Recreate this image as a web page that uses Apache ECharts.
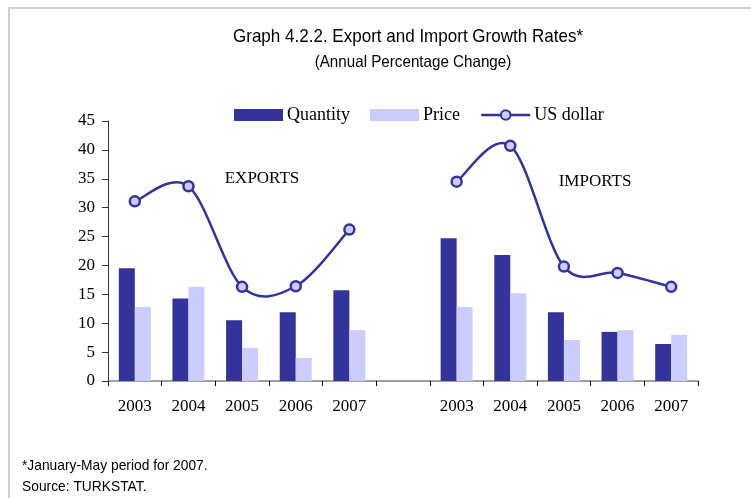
<!DOCTYPE html>
<html>
<head>
<meta charset="utf-8">
<script src="https://cdn.jsdelivr.net/npm/echarts@6/dist/echarts.min.js"></script>
<style>
  html, body { margin: 0; padding: 0; background: #ffffff; }
  #chart { width: 751px; height: 498px; }
</style>
</head>
<body>
<div id="chart"></div>
<script>
// Years shown for each block of the chart
const exportYears = ['2003', '2004', '2005', '2006', '2007'];
const importYears = ['2003', '2004', '2005', '2006', '2007'];

// Annual percentage change, exports
const exportsQuantity = [19.5, 14.3, 10.5, 11.9, 15.7];
const exportsPrice = [12.8, 16.3, 5.7, 4.0, 8.8];
const exportsUSD = [31.1, 33.7, 16.3, 16.4, 26.2];

// Annual percentage change, imports
const importsQuantity = [24.7, 21.8, 11.9, 8.5, 6.4];
const importsPrice = [12.8, 15.2, 7.1, 8.8, 8.0];
const importsUSD = [34.5, 40.7, 19.8, 18.7, 16.3];

// Value axis ticks
const yMin = 0, yMax = 45, yStep = 5;

// One empty slot separates the export and import blocks
const categories = exportYears.concat([''], importYears);
const importOffset = exportYears.length + 1;
const joinBlocks = (a, b) => a.concat(['-'], b);

// Curve segments: each item holds the two end points of a segment and
// their outer neighbours (index, value pairs), used for the tangents.
function curveSegments(values, offset) {
  const out = [];
  const n = values.length;
  for (let i = 0; i < n - 1; i++) {
    const a = i > 0 ? i - 1 : i;
    const d = i + 2 < n ? i + 2 : i + 1;
    out.push([offset + a, values[a], offset + i, values[i],
              offset + i + 1, values[i + 1], offset + d, values[d]]);
  }
  return out;
}
const usdSegments = curveSegments(exportsUSD, 0).concat(curveSegments(importsUSD, importOffset));

const serif = '"Liberation Serif", "Times New Roman", serif';
const sans = '"Liberation Sans", Arial, sans-serif';
const dark = '#333399';
const light = '#ccccff';
const frame = '#d4d0c8';

const chart = echarts.init(document.getElementById('chart'), null, { renderer: 'canvas' });

function narrowText(x, y, text, size, align) {
  return {
    type: 'text', x: x, y: y, scaleX: 0.92,
    style: { text: text, fontFamily: sans, fontSize: size, fill: '#000', align: align, verticalAlign: 'middle' }
  };
}

chart.setOption({
  backgroundColor: '#ffffff',
  animation: false,
  grid: { left: 108, right: 53, top: 121, bottom: 117, containLabel: false },
  legend: {
    top: 106,
    left: 234,
    padding: 0,
    itemWidth: 49,
    itemHeight: 12,
    itemGap: 20,
    textStyle: { fontFamily: serif, fontSize: 18, color: '#000', padding: [0, 0, 0, -1] },
    data: [
      { name: 'Quantity', icon: 'rect' },
      { name: 'Price', icon: 'rect' },
      { name: 'US dollar', lineStyle: { opacity: 1, width: 2.5, color: dark } }
    ]
  },
  xAxis: {
    type: 'category',
    data: categories,
    boundaryGap: true,
    axisLine: { lineStyle: { color: '#808080', width: 1.5 } },
    axisTick: { show: true, length: 5, lineStyle: { color: '#000' } },
    axisLabel: { fontFamily: serif, fontSize: 17, color: '#000', margin: 17, interval: 0 }
  },
  yAxis: {
    type: 'value',
    min: yMin,
    max: yMax,
    interval: yStep,
    splitLine: { show: false },
    axisLine: { show: true, lineStyle: { color: '#333' } },
    axisTick: { show: true, length: 6, lineStyle: { color: '#333' } },
    axisLabel: { fontFamily: serif, fontSize: 17, color: '#000', margin: 13 }
  },
  series: [
    {
      name: 'Quantity',
      type: 'bar',
      barWidth: 16,
      barGap: '0%',
      itemStyle: { color: dark },
      data: joinBlocks(exportsQuantity, importsQuantity)
    },
    {
      name: 'Price',
      type: 'bar',
      barWidth: 16,
      barGap: '0%',
      itemStyle: { color: light },
      data: joinBlocks(exportsPrice, importsPrice)
    },
    {
      // markers; the smoothed curve itself is drawn by the custom series below
      name: 'US dollar',
      type: 'line',
      connectNulls: false,
      symbol: 'circle',
      symbolSize: 10,
      z: 6,
      lineStyle: { color: dark, width: 2.5, opacity: 0 },
      itemStyle: { color: light, borderColor: dark, borderWidth: 2.5 },
      data: joinBlocks(exportsUSD, importsUSD)
    },
    {
      name: 'usd-curve',
      type: 'custom',
      z: 5,
      silent: true,
      encode: { x: [0, 2, 4, 6], y: [1, 3, 5, 7] },
      data: usdSegments,
      renderItem: function (params, api) {
        const p = [0, 1, 2, 3].map(function (k) {
          return api.coord([api.value(2 * k), api.value(2 * k + 1)]);
        });
        return {
          type: 'bezierCurve',
          shape: {
            x1: p[1][0], y1: p[1][1],
            x2: p[2][0], y2: p[2][1],
            cpx1: p[1][0] + (p[2][0] - p[0][0]) / 6,
            cpy1: p[1][1] + (p[2][1] - p[0][1]) / 6,
            cpx2: p[2][0] - (p[3][0] - p[1][0]) / 6,
            cpy2: p[2][1] - (p[3][1] - p[1][1]) / 6
          },
          style: { stroke: dark, lineWidth: 2.5, fill: null, lineCap: 'round' }
        };
      }
    }
  ],
  graphic: [
    // frame lines along the top and left edges
    { type: 'rect', shape: { x: 8, y: 7, width: 743, height: 2 }, style: { fill: frame }, silent: true },
    { type: 'rect', shape: { x: 8, y: 7, width: 2, height: 491 }, style: { fill: frame }, silent: true },
    narrowText(408, 37, 'Graph 4.2.2. Export and Import Growth Rates*', 18.5, 'center'),
    narrowText(413, 62, '(Annual Percentage Change)', 16.5, 'center'),
    {
      type: 'text', x: 262, y: 179,
      style: { text: 'EXPORTS', fontFamily: serif, fontSize: 17, fill: '#000', align: 'center', verticalAlign: 'middle' }
    },
    {
      type: 'text', x: 595, y: 182,
      style: { text: 'IMPORTS', fontFamily: serif, fontSize: 17, fill: '#000', align: 'center', verticalAlign: 'middle' }
    },
    narrowText(22, 466, '*January-May period for 2007.', 15, 'left'),
    narrowText(22, 487, 'Source: TURKSTAT.', 15, 'left')
  ]
});
</script>
</body>
</html>
